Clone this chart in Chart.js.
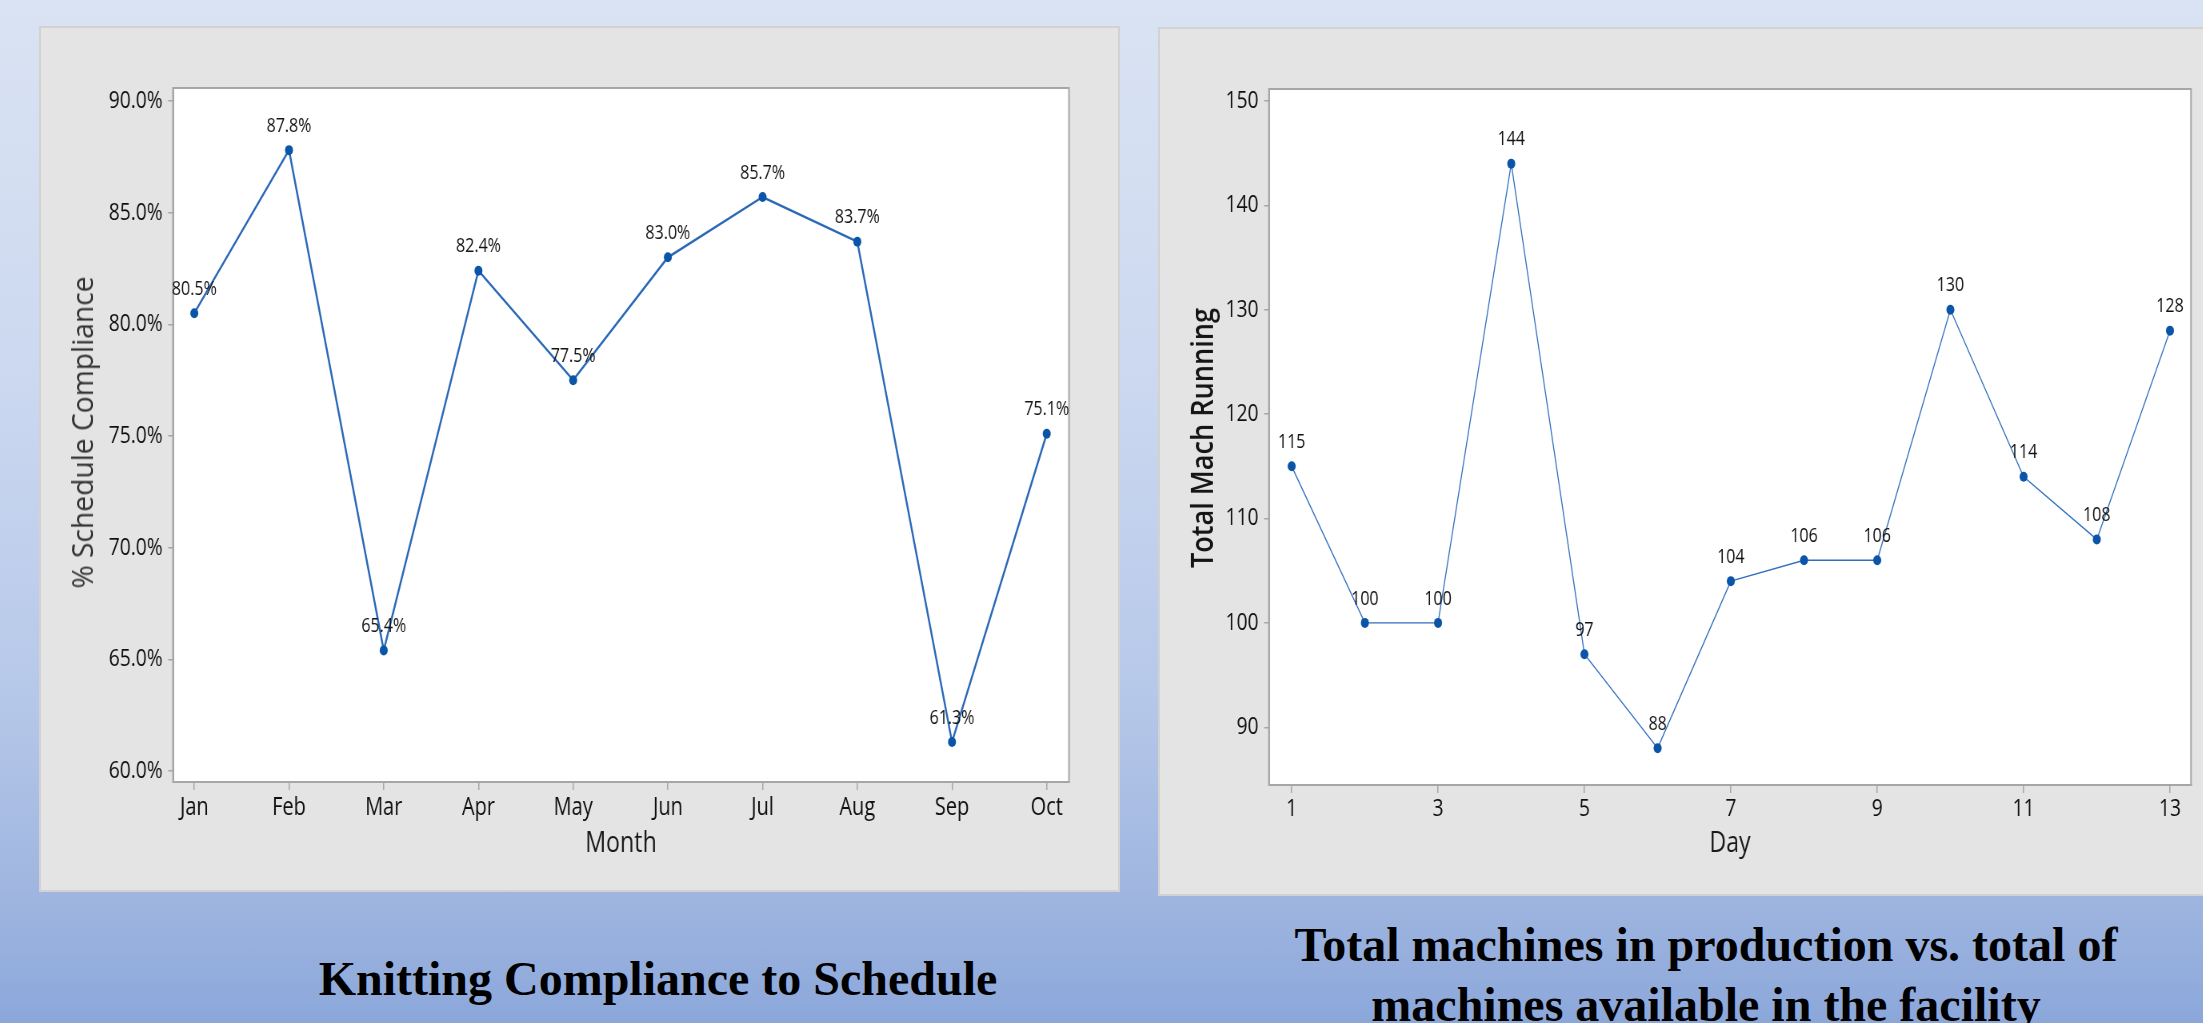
<!DOCTYPE html>
<html>
<head>
<meta charset="utf-8">
<title>Knitting compliance and machines running</title>
<script src="https://cdn.jsdelivr.net/npm/chart.js@4.4.1/dist/chart.umd.min.js"></script>
<style>
  html, body { margin: 0; padding: 0; }
  body {
    width: 2203px; height: 1023px; position: relative; overflow: hidden;
    background: linear-gradient(to bottom, #d9e3f3 0%, #cdd9f0 35%, #b6c8e9 68%, #a0b6e0 87%, #8ba7da 100%);
  }
  .panel { position: absolute; background: #e4e4e4; border: 2px solid #d2d2d2; box-sizing: border-box; }
  .squeeze { position: absolute; transform-origin: 0 0; transform: scaleX(0.8); }
  .squeeze canvas { display: block; }
  .ytitle {
    position: absolute; white-space: nowrap; font-family: "Open Sans", "Noto Sans", sans-serif;
    line-height: 1; transform-origin: center center;
  }
  .caption {
    position: absolute; text-align: center; color: #000;
    font-family: "Liberation Serif", "Times New Roman", serif; font-weight: bold;
    font-size: 48px; line-height: 60px;
  }
</style>
</head>
<body>

<div class="panel" style="left:39px; top:26px; width:1081px; height:866px;"></div>
<div class="panel" style="left:1158px; top:27px; width:1047px; height:869px;"></div>

<div class="squeeze" style="left:39px; top:26px;"><canvas id="complianceChart" width="1351" height="866"></canvas></div>
<div class="squeeze" style="left:1158px; top:27px;"><canvas id="machinesChart" width="1306" height="869"></canvas></div>

<div class="ytitle" id="complianceTitle" data-cx="81" data-cy="432" data-len="312"
     style="font-size:29px; color:#333333;">% Schedule Compliance</div>
<div class="ytitle" id="machinesTitle" data-cx="1202" data-cy="438" data-len="260"
     style="font-size:30px; font-weight:600; color:#141414;">Total Mach Running</div>

<div class="caption" style="left:0px; top:949px; width:1316px;">Knitting Compliance to Schedule</div>
<div class="caption" style="left:1226px; top:915px; width:960px;">Total machines in production vs. total of<br>machines available in the facility</div>

<script>
// Monthly knitting schedule compliance (%)
const months = ['Jan', 'Feb', 'Mar', 'Apr', 'May', 'Jun', 'Jul', 'Aug', 'Sep', 'Oct'];
const compliance = [80.5, 87.8, 65.4, 82.4, 77.5, 83.0, 85.7, 83.7, 61.3, 75.1];
const complianceTicks = [60, 65, 70, 75, 80, 85, 90];

// Daily count of machines running
const days = [1, 2, 3, 4, 5, 6, 7, 8, 9, 10, 11, 12, 13];
const machinesRunning = [115, 100, 100, 144, 97, 88, 104, 106, 106, 130, 114, 108, 128];
const dayTicks = [1, 3, 5, 7, 9, 11, 13];
const machineTicks = [90, 100, 110, 120, 130, 140, 150];

Chart.defaults.font.family = '"Open Sans", "Noto Sans", sans-serif';
Chart.defaults.color = '#0f0f0f';

const FRAME = '#a6a6a6';

// White plot area with a grey frame
const plotFrame = {
  id: 'plotFrame',
  beforeDraw(chart) {
    const { ctx, chartArea: a } = chart;
    ctx.save();
    ctx.fillStyle = '#ffffff';
    ctx.fillRect(a.left, a.top, a.right - a.left, a.bottom - a.top);
    ctx.restore();
  },
  beforeDatasetsDraw(chart) {
    const { ctx, chartArea: a } = chart;
    ctx.save();
    ctx.strokeStyle = FRAME;
    ctx.lineWidth = 2;
    ctx.strokeRect(a.left, a.top, a.right - a.left, a.bottom - a.top);
    ctx.restore();
  }
};

// Value labels above each point
const pointLabels = {
  id: 'pointLabels',
  afterDatasetsDraw(chart, args, opts) {
    const { ctx } = chart;
    const ds = chart.data.datasets[0];
    const meta = chart.getDatasetMeta(0);
    ctx.save();
    ctx.font = opts.font;
    ctx.fillStyle = opts.color;
    ctx.textAlign = 'center';
    ctx.textBaseline = 'middle';
    meta.data.forEach((pt, i) => {
      ctx.fillText(opts.format(ds.data[i].y), pt.x, pt.y - opts.offset);
    });
    ctx.restore();
  }
};

function axisBase(extra) {
  return Object.assign({
    grid: { drawOnChartArea: false, drawTicks: true, color: FRAME, lineWidth: 1.5 },
    border: { display: true, color: FRAME, width: 2 }
  }, extra);
}

new Chart(document.getElementById('complianceChart'), {
  type: 'line',
  data: {
    datasets: [{
      data: compliance.map((v, i) => ({ x: i, y: v })),
      borderColor: '#2a68b8',
      borderWidth: 2.4,
      pointRadius: 5,
      pointBackgroundColor: '#0b55a8',
      pointBorderWidth: 0,
      tension: 0
    }]
  },
  options: {
    responsive: false,
    animation: false,
    devicePixelRatio: 1,
    layout: { padding: { left: 0, top: 62, right: 63.5, bottom: 0 } },
    plugins: {
      legend: { display: false },
      tooltip: { enabled: false },
      pointLabels: { font: '20px "Open Sans", sans-serif', color: '#141414', offset: 24,
                     format: v => v.toFixed(1) + '%' }
    },
    scales: {
      x: axisBase({
        type: 'linear', min: -0.225, max: 9.235,
        afterBuildTicks: s => { s.ticks = months.map((m, i) => ({ value: i })); },
        afterFit: s => { s.height = 110; },
        grid: { drawOnChartArea: false, drawTicks: true, tickLength: 8, color: FRAME, lineWidth: 1.5 },
        ticks: { callback: v => months[v], font: { size: 25 }, padding: 3, maxRotation: 0, autoSkip: false },
        title: { display: true, text: 'Month', font: { size: 29 }, color: '#1a1a1a', padding: { bottom: 31 } }
      }),
      y: axisBase({
        min: 59.507, max: 90.582,
        afterBuildTicks: s => { s.ticks = complianceTicks.map(v => ({ value: v })); },
        afterFit: s => { s.width = 167.5; },
        grid: { drawOnChartArea: false, drawTicks: true, tickLength: 6, color: FRAME, lineWidth: 1.5 },
        ticks: { callback: v => v.toFixed(1) + '%', font: { size: 24 }, padding: 7 }
      })
    }
  },
  plugins: [plotFrame, pointLabels]
});

new Chart(document.getElementById('machinesChart'), {
  type: 'line',
  data: {
    datasets: [{
      data: machinesRunning.map((v, i) => ({ x: days[i], y: v })),
      borderColor: '#2f6fbf',
      borderWidth: 1.3,
      pointRadius: 5,
      pointBackgroundColor: '#0b55a8',
      pointBorderWidth: 0,
      tension: 0
    }]
  },
  options: {
    responsive: false,
    animation: false,
    devicePixelRatio: 1,
    layout: { padding: { left: 0, top: 62, right: 14.75, bottom: 0 } },
    plugins: {
      legend: { display: false },
      tooltip: { enabled: false },
      pointLabels: { font: '20px "Open Sans", sans-serif', color: '#111111', offset: 24,
                     format: v => String(v) }
    },
    scales: {
      x: axisBase({
        type: 'linear', min: 0.69, max: 13.287,
        afterBuildTicks: s => { s.ticks = dayTicks.map(v => ({ value: v })); },
        afterFit: s => { s.height = 111; },
        grid: { drawOnChartArea: false, drawTicks: true, tickLength: 8, color: FRAME, lineWidth: 1.5 },
        ticks: { callback: v => String(v), font: { size: 24 }, padding: 2, maxRotation: 0, autoSkip: false },
        title: { display: true, text: 'Day', font: { size: 29 }, color: '#1a1a1a', padding: { bottom: 35 } }
      }),
      y: axisBase({
        min: 84.47, max: 151.15,
        afterBuildTicks: s => { s.ticks = machineTicks.map(v => ({ value: v })); },
        afterFit: s => { s.width = 138.75; },
        grid: { drawOnChartArea: false, drawTicks: true, tickLength: 6, color: FRAME, lineWidth: 1.5 },
        ticks: { callback: v => String(v), font: { size: 24 }, padding: 7 }
      })
    }
  },
  plugins: [plotFrame, pointLabels]
});

// Vertical axis titles: rotate and fit to the requested length
document.querySelectorAll('.ytitle').forEach(el => {
  const w = el.offsetWidth, h = el.offsetHeight;
  const k = Number(el.dataset.len) / w;
  el.style.left = (Number(el.dataset.cx) - w / 2) + 'px';
  el.style.top = (Number(el.dataset.cy) - h / 2) + 'px';
  el.style.transform = 'rotate(-90deg) scale(' + k.toFixed(3) + ', 1)';
});
</script>
</body>
</html>
